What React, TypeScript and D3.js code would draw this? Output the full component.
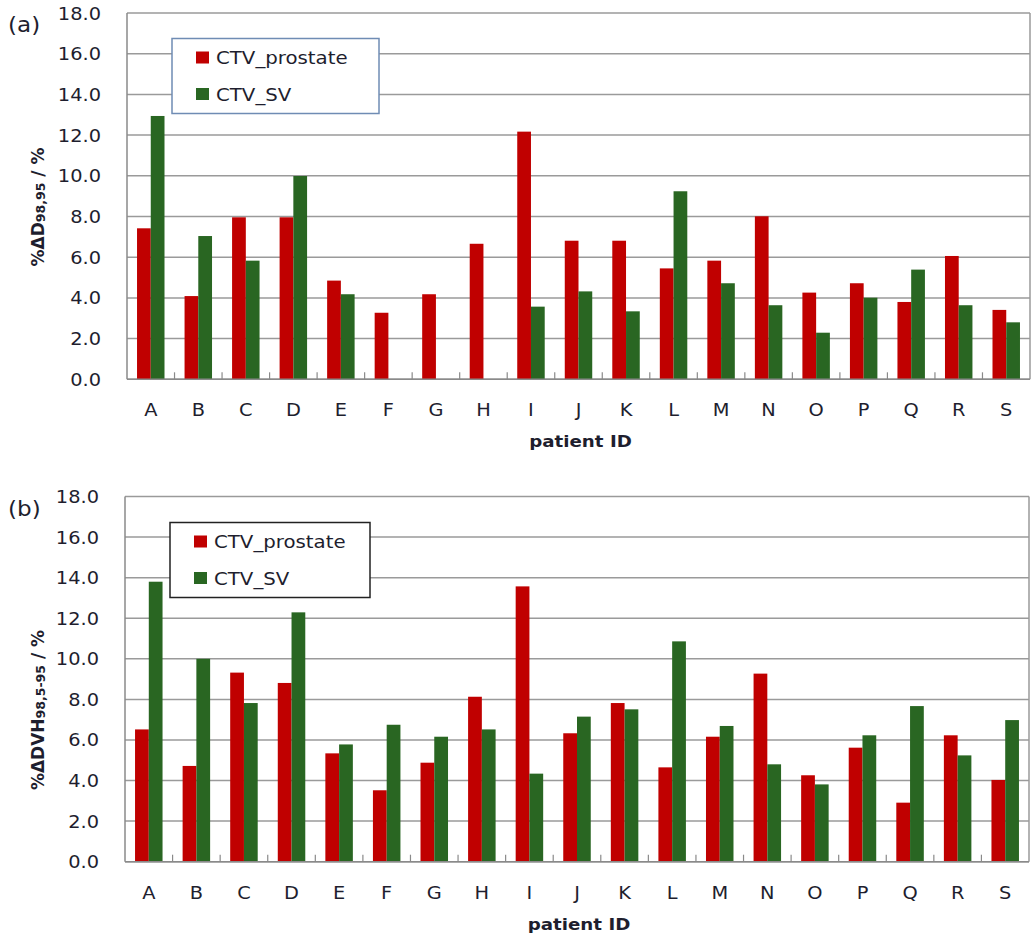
import React from "react";
import * as d3 from "d3";

const categories = ["A","B","C","D","E","F","G","H","I","J","K","L","M","N","O","P","Q","R","S"];
const seriesNames = ["CTV_prostate", "CTV_SV"];
const seriesColors = ["#C00000", "#296622"];

const aProstate = [7.42,4.09,7.96,7.96,4.85,3.27,4.18,6.66,12.17,6.81,6.81,5.45,5.83,8.01,4.26,4.72,3.80,6.06,3.41];
const aSV = [12.94,7.04,5.83,9.99,4.18,0,0,0,3.57,4.32,3.34,9.24,4.72,3.64,2.29,4.01,5.39,3.64,2.80];

const bProstate = [6.52,4.72,9.32,8.81,5.34,3.52,4.88,8.13,13.57,6.33,7.82,4.65,6.16,9.27,4.26,5.62,2.91,6.23,4.03];
const bSV = [13.80,10.0,7.82,12.29,5.78,6.75,6.16,6.52,4.34,7.15,7.51,10.86,6.69,4.80,3.81,6.23,7.67,5.24,6.98];

const yTicks = [0,2,4,6,8,10,12,14,16,18];

const FONT = "'DejaVu Sans', Verdana, sans-serif";
const SX = 1.14;
const TXT = "#1e1e2e";

function T({x, y, anchor = "start", size = 16, weight = "normal", children, rotate = 0, sx = SX}: any) {
  const tr = rotate ? `translate(${x},${y}) rotate(${rotate}) scale(${sx},1)` : `translate(${x},${y}) scale(${sx},1)`;
  return (
    <text transform={tr} textAnchor={anchor} fontFamily={FONT} fontSize={size} fontWeight={weight} fill={TXT}>
      {children}
    </text>
  );
}

function Panel({label, left, right, top, bottom, prostate, sv, legend, legendStroke, titleMain, titleSub, titleCy}: any) {
  const x0 = d3.scaleBand().domain(categories).range([left, right]).padding(0);
  const x1 = d3.scaleBand().domain(seriesNames).range([0, x0.bandwidth()]).paddingInner(0).paddingOuter(0.73);
  const y = d3.scaleLinear().domain([0, 18]).range([bottom, top]);
  const fmt = d3.format(".1f");
  const data = [prostate, sv];
  return (
    <g>
      {yTicks.map((t) => (
        <line key={"g" + t} x1={left} x2={right} y1={y(t)} y2={y(t)} stroke="#9a9a9a" strokeWidth={1.5} />
      ))}
      <line x1={right} x2={right} y1={top} y2={bottom} stroke="#9a9a9a" strokeWidth={1.5} />
      {data.map((vals: number[], si: number) =>
        categories.map((c, i) =>
          vals[i] > 0 ? (
            <rect key={c + si} x={(x0(c) as number) + (x1(seriesNames[si]) as number)} y={y(vals[i])}
              width={x1.bandwidth()} height={y(0) - y(vals[i])} fill={seriesColors[si]} />
          ) : null
        )
      )}
      <line x1={left} x2={left} y1={top} y2={bottom} stroke="#8a8a8a" strokeWidth={1.5} />
      <line x1={left} x2={right} y1={bottom} y2={bottom} stroke="#8a8a8a" strokeWidth={1.5} />
      {categories.slice(1).map((c) => (
        <line key={"t" + c} x1={x0(c) as number} x2={x0(c) as number} y1={bottom} y2={bottom - 7} stroke="#8a8a8a" strokeWidth={1.2} />
      ))}
      {yTicks.map((t) => (
        <T key={"yl" + t} x={left - 26} y={y(t) + 6.5} anchor="end" size={17}>{fmt(t)}</T>
      ))}
      {categories.map((c) => (
        <T key={"xl" + c} x={(x0(c) as number) + x0.bandwidth() / 2} y={bottom + 37} anchor="middle" size={17}>{c}</T>
      ))}
      <T x={(left + right) / 2 + 2} y={bottom + 68} anchor="middle" size={16} weight="bold">patient ID</T>
      <T x={8} y={top + 19} size={22} sx={1.05}>{label}</T>
      <text transform={`translate(44,${titleCy}) rotate(-90) scale(1,1)`} textAnchor="middle" fontFamily={FONT} fontSize={17} fontWeight="bold" fill={TXT}>
        {titleMain}
        <tspan fontSize={12.5} dy={1}>{titleSub}</tspan>
        <tspan dy={-1}> / %</tspan>
      </text>
      <rect x={legend.x} y={legend.y} width={legend.w} height={legend.h} fill="#ffffff" stroke={legendStroke} strokeWidth={1.5} />
      {seriesNames.map((s, i) => (
        <g key={"lg" + s}>
          <rect x={legend.x + 24} y={legend.y + 13 + i * 36.5} width={13} height={12} fill={seriesColors[i]} />
          <T x={legend.x + 44} y={legend.y + 25.5 + i * 36.5} size={17.5} sx={1.13}>{s}</T>
        </g>
      ))}
    </g>
  );
}

export default function App() {
  return (
    <svg width={1036} height={937} style={{ position: "absolute", left: 0, top: 0, background: "#fff" }}>
      <rect x={0} y={0} width={1036} height={937} fill="#fff" />
      <Panel label="(a)" left={127} right={1030} top={13} bottom={379.3} prostate={aProstate} sv={aSV}
        legend={{ x: 172, y: 38.5, w: 207, h: 75 }} legendStroke="#6f8cb4"
        titleMain="%ΔD" titleSub="98,95" titleCy={207} />
      <Panel label="(b)" left={125} right={1029} top={496.5} bottom={861.7} prostate={bProstate} sv={bSV}
        legend={{ x: 170, y: 522.5, w: 200, h: 75 }} legendStroke="#222"
        titleMain="%ΔDVH" titleSub="98,5-95" titleCy={710} />
    </svg>
  );
}
